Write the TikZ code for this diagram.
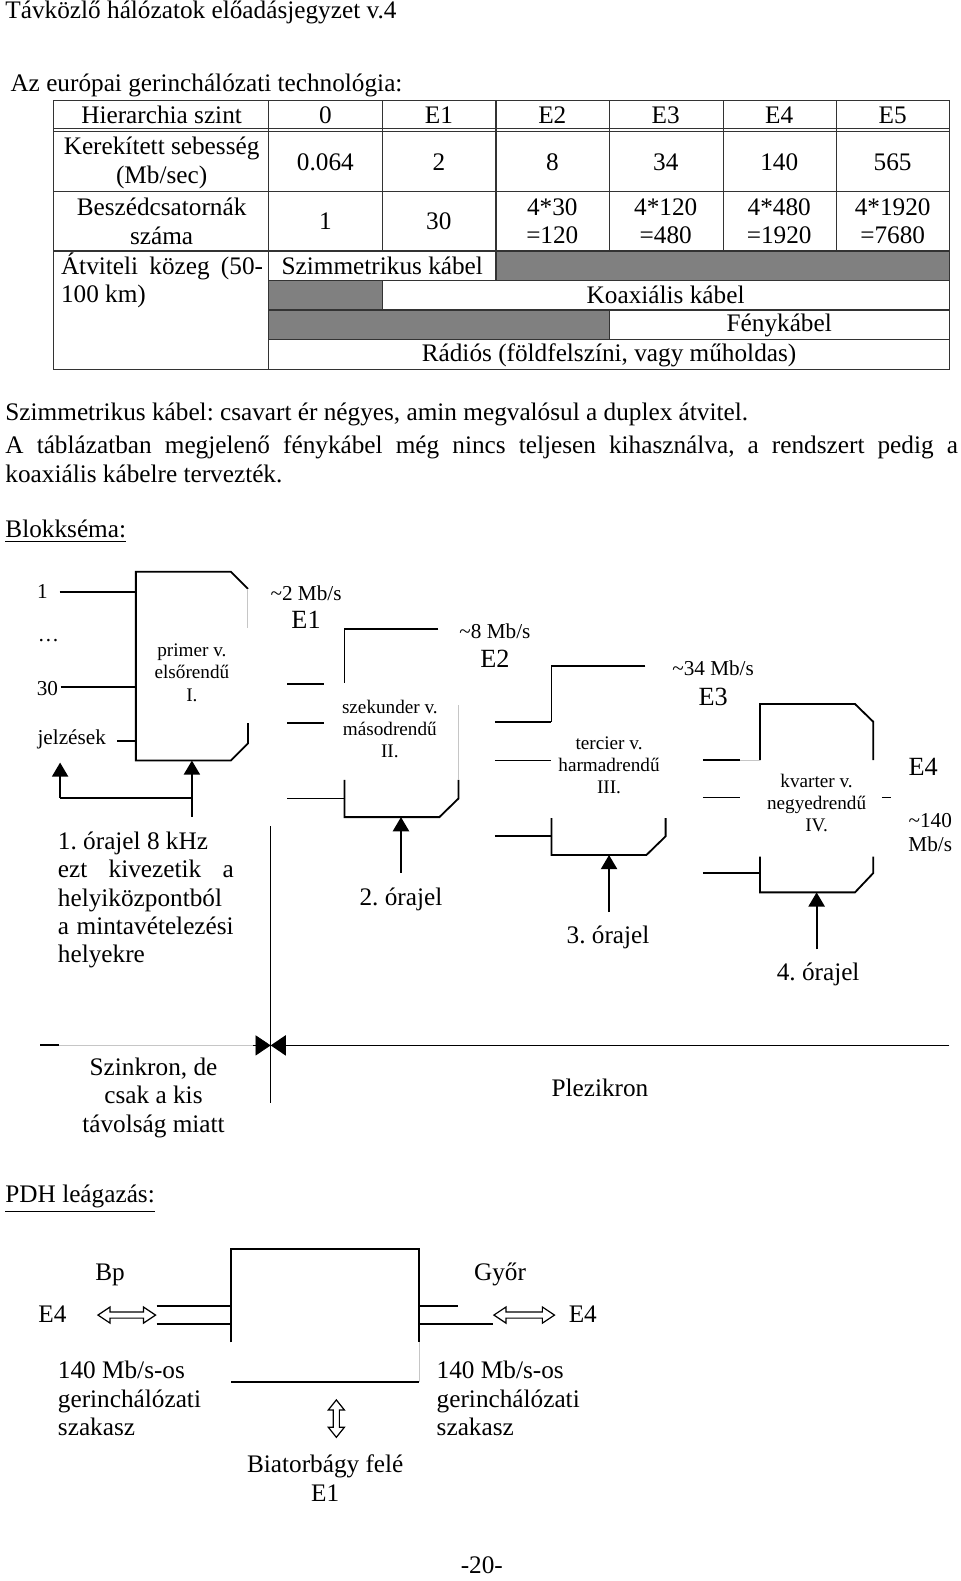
\documentclass[tikz,border=0pt]{standalone}
\usepackage{fontspec}
\setmainfont{Liberation Serif}
\usetikzlibrary{arrows.meta}
\frenchspacing

% hollow double arrows: x1, x2, y  /  x, y1, y2
\newcommand{\hdblarrow}[3]{\draw[hollow] (#1,#3) -- ++(12,-8) -- ++(0,5) -- ({#2-12},{#3-3}) -- ++(0,-5) -- (#2,#3) -- ({#2-12},{#3+8}) -- ++(0,-5) -- ({#1+12},{#3+3}) -- ++(0,5) -- cycle;}
\newcommand{\vdblarrow}[3]{\draw[hollow] (#1,#2) -- ++(8,10) -- ++(-5,0) -- ({#1+3},{#3-10}) -- ++(5,0) -- (#1,#3) -- ({#1-8},{#3-10}) -- ++(5,0) -- ({#1-3},{#2+10}) -- ++(-5,0) -- cycle;}

\tikzset{
    txt/.style={inner sep=0pt, font=\fontsize{12.5}{14.25}\selectfont},
    small/.style={inner sep=0pt, font=\fontsize{10.5}{12}\selectfont},
    blocklabel/.style={inner sep=0pt, align=center, font=\fontsize{9.5}{11}\selectfont},
    wire/.style={line width=0.9pt},
    faint/.style={line width=0.5pt, gray!45},
    grid/.style={line width=0.6pt, black!80},
    clock/.style={wire, -{Triangle[width=8pt,length=7pt]}},
    hollow/.style={line width=0.6pt, fill=white}
}

\begin{document}
\begin{tikzpicture}[x=0.5pt, y=-0.5pt]
    \fill[white] (0,0) rectangle (950.5,1565.3);
    \useasboundingbox (0,0) rectangle (950.5,1565.3);

    \node[txt, anchor=west] (title) at (5,12) {Távközlő hálózatok előadásjegyzet v.4};
    \node[txt, anchor=west] (intro) at (10,85) {Az európai gerinchálózati technológia:};

    % table
    \fill[gray] (491,248.5) rectangle (940,277.5);
    \fill[gray] (266,277.5) rectangle (378.5,307);
    \fill[gray] (266,307) rectangle (603.5,336.5);
    \draw[grid] (53,99.5) rectangle (940,366);
    \draw[grid] (53,127.5) -- (940,127.5) (53,130.5) -- (940,130.5)
        (53,189.5) -- (940,189.5) (53,248.5) -- (940,248.5);
    \draw[grid] (266,277.5) -- (940,277.5) (266,307) -- (940,307) (266,336.5) -- (940,336.5);
    \draw[grid] (266,99.5) -- (266,366);
    \foreach \x in {378.5,491,603.5,716,828.5}
        \draw[grid] (\x,99.5) -- (\x,248.5);
    \draw[grid] (491,248.5) -- (491,277.5) (378.5,277.5) -- (378.5,307) (603.5,307) -- (603.5,336.5);

    \node[txt] (hlevel) at (160,114) {Hierarchia szint};
    \node[txt, align=center] (hrate) at (160,161) {Kerekített sebesség\\(Mb/sec)};
    \node[txt, align=center] (hchan) at (160,219) {Beszédcsatornák\\száma};
    \node[txt, align=left, anchor=west] (hmedium) at (60,277.5) {\makebox[100pt][s]{Átviteli közeg (50-}\\100 km)};
    \foreach \v [count=\i] in {0,E1,E2,E3,E4,E5}
        \node[txt] (lvl\i) at ({266+112.33*(\i-0.5)},114) {\v};
    \foreach \v [count=\i] in {0.064,2,8,34,140,565}
        \node[txt] (rate\i) at ({266+112.33*(\i-0.5)},161) {\v};
    \node[txt] (ch1) at (322.2,219) {1};
    \node[txt] (ch2) at (434.5,219) {30};
    \foreach \a/\b [count=\i from 3] in {30/120,120/480,480/1920,1920/7680}
        \node[txt, align=center] (ch\i) at ({266+112.33*(\i-0.5)},219) {4*\a\\=\b};
    \node[txt] (sym) at (378.5,263) {Szimmetrikus kábel};
    \node[txt] (coax) at (659,292) {Koaxiális kábel};
    \node[txt] (fiber) at (771.5,322) {Fénykábel};
    \node[txt] (radio) at (603,351.5) {Rádiós (földfelszíni, vagy műholdas)};

    \node[txt, anchor=west] (note1) at (5,410) {Szimmetrikus kábel: csavart ér négyes, amin megvalósul a duplex átvitel.};
    \node[txt, anchor=west, text width=471.5pt, align=justify] (note2) at (5,454.5)
        {A táblázatban megjelenő fénykábel még nincs teljesen kihasználva, a rendszert pedig a\linebreak koaxiális kábelre tervezték.};
    \node[txt, anchor=west] (blk) at (5,526) {\underline{Blokkséma:}};

    % primer
    \draw[wire] (245.5,583) -- (228.5,566) -- (134.5,566) -- (134.5,753) -- (228.5,753) -- (245.5,736) -- (245.5,716);
    \draw[faint] (245.5,583) -- (245.5,622);
    \node[small] (in1) at (42,586) {1};
    \node[small] (indots) at (48,634) {\dots};
    \node[small] (in30) at (47,682) {30};
    \node[small] (insig) at (71,732) {jelzések};
    \draw[wire] (59,586) -- (134.5,586);
    \draw[wire] (60,680) -- (134.5,680);
    \draw[wire] (116,734) -- (134.5,734);
    \node[blocklabel] (mux1) at (190,666) {primer v.\\elsőrendű\\I.};
    \draw[clock] (59.5,790) -- (59.5,755);
    \draw[clock] (190,808.5) -- (190,753);
    \draw[wire] (59.5,790) -- (190,790);
    \node[txt, anchor=west, text width=87pt, align=justify,
        font=\fontsize{12.5}{14}\selectfont] (clk1) at (57,891)
        {1. órajel 8 kHz\\ ezt kivezetik a\linebreak helyiközpontból\\ a mintavételezési\linebreak helyekre};
    \node[small] (r1) at (303,587) {\textasciitilde 2 Mb/s};
    \node[txt, font=\fontsize{13}{14}\selectfont] (e1) at (303,614) {E1};

    \draw[line width=0.7pt] (268,818) -- (268,1092);

    % szekunder
    \draw[wire] (434,623) -- (341,623) -- (341,676.5);
    \draw[wire] (341,772) -- (341,809) -- (435,809) -- (454,790.5) -- (454,772);
    \draw[faint] (454,698) -- (454,772);
    \draw[wire] (284.5,677.5) -- (321,677.5);
    \draw[wire] (284.5,715.5) -- (321,715.5);
    \draw[wire] (284.5,790.5) -- (341,790.5);
    \node[blocklabel] (mux2) at (386,721.5) {szekunder v.\\másodrendű\\II.};
    \draw[clock] (397,864) -- (397,809);
    \node[txt] (clk2) at (397,890) {2. órajel};
    \node[small] (r2) at (490,625) {\textasciitilde 8 Mb/s};
    \node[txt, font=\fontsize{13}{14}\selectfont] (e2) at (490,652) {E2};

    % tercier
    \draw[wire] (639,659) -- (546,659) -- (546,714.5);
    \draw[wire] (546,810) -- (546,846.5) -- (640,846.5) -- (659,828) -- (659,810);
    \draw[wire] (490,714.5) -- (546,714.5);
    \draw[wire] (490,753) -- (546,753);
    \draw[wire] (490,828) -- (546,828);
    \node[blocklabel] (mux3) at (603,757.5) {tercier v.\\harmadrendű\\III.};
    \draw[clock] (603,903) -- (603,846.5);
    \node[txt] (clk3) at (602,928) {3. órajel};
    \node[small] (r3) at (706,662) {\textasciitilde 34 Mb/s};
    \node[txt, font=\fontsize{13}{14}\selectfont] (e3) at (706,690) {E3};

    % kvarter
    \draw[wire] (752.5,752.5) -- (752.5,697) -- (846.5,697) -- (864.5,714.5) -- (864.5,752.5);
    \draw[wire] (752.5,848) -- (752.5,883.5) -- (846.5,883.5) -- (864.5,864.5) -- (864.5,848);
    \draw[wire] (696,752.5) -- (733,752.5);
    \draw[faint] (733,752.5) -- (752.5,752.5);
    \draw[wire] (696,789.5) -- (733,789.5);
    \draw[wire] (696,864) -- (752.5,864);
    \draw[wire] (873,789.5) -- (882,789.5);
    \node[blocklabel] (mux4) at (808.5,795) {kvarter v.\\negyedrendű\\IV.};
    \draw[clock] (808.5,940) -- (808.5,883.5);
    \node[txt] (clk4) at (810,965) {4. órajel};
    \node[txt, font=\fontsize{13}{14}\selectfont] (e4) at (914,759) {E4};
    \node[small, align=center] (r4) at (921,824.5) {\textasciitilde 140\\Mb/s};

    % szinkron / plezikron
    \coordinate (sep) at (268,1035);
    \draw[faint] (40,1035) -- (252,1035);
    \draw[wire] (40,1035) -- (58,1035);
    \draw[-{Triangle[length=7.5pt,width=10pt]}] (250,1035) -- (sep);
    \draw[line width=0.8pt, -{Triangle[length=7.5pt,width=10pt]}] (940,1035) -- (sep);
    \node[txt, align=center] (sync) at (152,1087) {Szinkron, de\\csak a kis\\távolság miatt};
    \node[txt] (plesio) at (594,1077) {Plezikron};

    \node[txt, anchor=west] (pdh) at (5,1187) {\underline{PDH leágazás:}};

    % leagazas
    \draw[wire] (228.5,1329) -- (228.5,1236.5) -- (415,1236.5) -- (415,1329);
    \draw[faint] (415,1329) -- (415,1368);
    \draw[wire] (229,1368) -- (415,1368);
    \draw[wire] (155,1293) -- (228.5,1293);
    \draw[wire] (155,1311) -- (228.5,1311);
    \draw[wire] (415,1293) -- (453,1293);
    \draw[wire] (415,1311) -- (488,1311);
    \hdblarrow{97}{154}{1302}
    \hdblarrow{489}{549}{1302}
    \vdblarrow{333}{1386}{1423}
    \node[txt] (bp) at (109,1262) {Bp};
    \node[txt] (gyor) at (495,1262) {Győr};
    \node[txt] (e4bp) at (52,1301) {E4};
    \node[txt] (e4gy) at (577,1301) {E4};
    \node[txt, align=left, anchor=west] (seg1) at (57,1384.5) {140 Mb/s-os\\gerinchálózati\\szakasz};
    \node[txt, align=left, anchor=west] (seg2) at (432,1384.5) {140 Mb/s-os\\gerinchálózati\\szakasz};
    \node[txt, align=center] (biat) at (322,1463.5) {Biatorbágy felé\\E1};

    \node[txt] (page) at (477,1550) {-20-};
\end{tikzpicture}
\end{document}
